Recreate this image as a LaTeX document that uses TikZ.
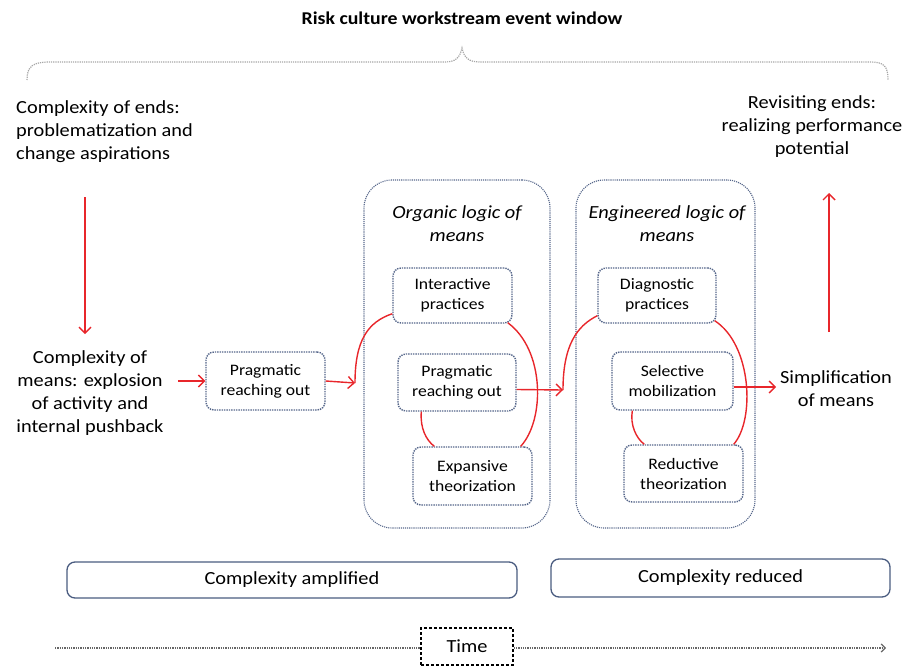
\documentclass[tikz,border=0pt]{standalone}
\usepackage{fontspec}
\setmainfont{Carlito}[FakeStretch=1.1]
\usetikzlibrary{arrows.meta,calc}
\definecolor{rd}{HTML}{E8262B}
\definecolor{bx}{HTML}{55668A}
\definecolor{bb}{HTML}{4A5C80}
\tikzset{
  bigtxt/.style={font=\fontsize{18.5}{23}\selectfont, align=center, inner sep=0pt},
  smallbox/.style={draw=bx, densely dotted, line width=1.4pt, rounded corners=8pt, font=\fontsize{16}{20}\selectfont, align=center, inner sep=0pt},
  container/.style={draw=bx, densely dotted, line width=1.1pt, rounded corners=28pt, inner sep=0pt},
  phase/.style={draw=bb, line width=1.3pt, rounded corners=8pt, font=\fontsize{18.5}{23}\selectfont, inner sep=0pt},
  redarrow/.style={draw=rd, line width=1.4pt, -{Straight Barb[length=6pt,width=12pt,line width=1.4pt]}},
  redline/.style={draw=rd, line width=1.4pt},
}
\begin{document}
\begin{tikzpicture}[x=1pt,y=-1pt]
\useasboundingbox (0,0) rectangle (907,669);
% title and brace
\node[font=\bfseries\fontsize{18}{22}\selectfont] (title) at (462,18) {Risk culture workstream event window};
\draw[gray!70, densely dotted, line width=1.2pt] (27,80) .. controls (27,66) and (33,62) .. (50,62) -- (445,62) .. controls (455,62) and (460,58) .. (462,48) .. controls (464,58) and (469,62) .. (480,62) -- (870,62) .. controls (884,62) and (888,66) .. (888,80);
% left texts
\node[bigtxt, align=left, anchor=west] (ends) at (16,132) {Complexity of ends:\\problematization and\\change aspirations};
\node[bigtxt] (means) at (90,393) {Complexity of\\means: explosion\\of activity and\\internal pushback};
\coordinate (dtop) at (85,197);
\coordinate (dbot) at (85,334);
\draw[redarrow] (dtop) -- (dbot);
% right texts
\node[bigtxt] (rev) at (812,127) {Revisiting ends:\\realizing performance\\potential};
\node[bigtxt] (simp) at (836,389) {Simplification\\of means};
\coordinate (ubot) at (829,332);
\coordinate (utop) at (829,193);
\draw[redarrow] (ubot) -- (utop);
% outer pragmatic box
\node[smallbox, minimum width=119, minimum height=58] (pro) at (265.5,381) {Pragmatic\\reaching out};
\coordinate (m1) at (178,381);
\draw[redarrow] (m1) -- (pro.west);
% organic container
\node[container, minimum width=186, minimum height=348] (org) at (457,354) {};
\node[font=\itshape\fontsize{18.5}{23}\selectfont, align=center] (orgt) at (457,224) {Organic logic of\\means};
\node[smallbox, minimum width=119, minimum height=55] (ip) at (452.5,295.5) {Interactive\\practices};
\node[smallbox, minimum width=118, minimum height=57] (pri) at (457,382.5) {Pragmatic\\reaching out};
\node[smallbox, minimum width=119, minimum height=58] (ex) at (472.5,476) {Expansive\\theorization};
\coordinate (j1) at (355,383);
\draw[redarrow] (pro.east) -- (j1);
\draw[redline] (j1) .. controls (355,340) and (368,322) .. ($(ip.south west)+(0,-10)$);
\draw[redline] ($(ip.south east)+(-5,-1)$) .. controls (545,350) and (545,420) .. ($(ex.north east)+(-12,0)$);
\draw[redline] ($(pri.south west)+(24,0)$) .. controls (420,428) and (426,440) .. ($(ex.north west)+(22,0)$);
% engineered container
\node[container, minimum width=179, minimum height=348] (eng) at (665.5,354) {};
\node[font=\itshape\fontsize{18.5}{23}\selectfont, align=center] (engt) at (667,224) {Engineered logic of\\means};
\node[smallbox, minimum width=118, minimum height=55] (dp) at (657,295.5) {Diagnostic\\practices};
\node[smallbox, minimum width=121, minimum height=58] (sm) at (672.5,381) {Selective\\mobilization};
\node[smallbox, minimum width=119, minimum height=57] (rt) at (683.5,473.5) {Reductive\\theorization};
\coordinate (j2) at (563,390);
\draw[redarrow] ($(pri.east)+(0,7)$) -- (j2);
\draw[redline] (j2) .. controls (563,345) and (577,326) .. ($(dp.south west)+(0,-8)$);
\draw[redline] ($(dp.south east)+(-2,-3)$) .. controls (752,345) and (755,420) .. ($(rt.north east)+(-10,0)$);
\draw[redline] ($(sm.south west)+(21,0)$) .. controls (630,425) and (636,438) .. ($(rt.north west)+(21,0)$);
\coordinate (s1) at (776,387);
\draw[redarrow] ($(sm.east)+(0,6)$) -- (s1);
% phase boxes
\node[phase, minimum width=450, minimum height=36] (amp) at (292,580) {Complexity amplified};
\node[phase, minimum width=339, minimum height=38] (red) at (720.5,578) {Complexity reduced};
% time
\node[draw=black, densely dashed, line width=1.2pt, minimum width=92, minimum height=37, inner sep=0pt, font=\fontsize{18.5}{23}\selectfont] (tb) at (467,646.5) {Time};
\coordinate (tl) at (55,648);
\coordinate (tr) at (886,648);
\draw[gray!80!black, densely dotted, line width=1.3pt] (tl) -- (tb.west |- tl);
\draw[gray!80!black, densely dotted, line width=1.3pt, -{Straight Barb[length=4pt,width=8pt,line width=1.2pt]}] (tb.east |- tr) -- (tr);
\end{tikzpicture}
\end{document}
